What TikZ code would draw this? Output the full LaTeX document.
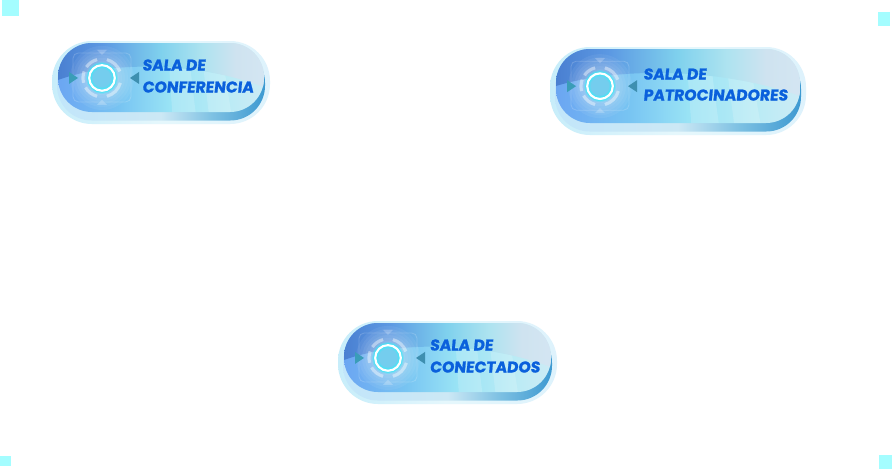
\documentclass[tikz,border=0pt]{standalone}
\usepackage{fontspec}
\setmainfont{Poppins}
\newfontfamily\btnfont[FakeSlant=0.1,FakeBold=1.2]{Poppins Bold}
\definecolor{cornercol}{HTML}{A4FDFF}
\definecolor{textblue}{HTML}{0A60DC}
\definecolor{teal1}{HTML}{3A9DB8}
\definecolor{teal2}{HTML}{3E8FB0}
\definecolor{ringfill}{HTML}{74CDEE}
\definecolor{ringglow}{HTML}{3FE8F8}
\pgfdeclarehorizontalshading{facelow}{100bp}{rgb(0bp)=(0.42,0.65,0.95); rgb(25bp)=(0.42,0.65,0.95); rgb(40bp)=(0.47,0.77,0.95); rgb(52bp)=(0.60,0.89,0.96); rgb(65bp)=(0.72,0.92,0.96); rgb(75bp)=(0.80,0.92,0.96); rgb(100bp)=(0.80,0.92,0.96)}
\pgfdeclarehorizontalshading{faceup}{100bp}{rgb(0bp)=(0.29,0.50,0.82); rgb(25bp)=(0.29,0.50,0.82); rgb(36bp)=(0.36,0.60,0.89); rgb(50bp)=(0.50,0.82,0.93); rgb(60bp)=(0.68,0.89,0.94); rgb(68bp)=(0.81,0.89,0.94); rgb(75bp)=(0.83,0.90,0.95); rgb(100bp)=(0.83,0.90,0.95)}
\pgfdeclarehorizontalshading{rimshade}{100bp}{rgb(0bp)=(0.76,0.90,0.98); rgb(25bp)=(0.76,0.90,0.98); rgb(50bp)=(0.80,0.91,0.96); rgb(62bp)=(0.50,0.76,0.89); rgb(75bp)=(0.24,0.60,0.82); rgb(100bp)=(0.24,0.60,0.82)}
\pgfdeclarehorizontalshading{haloshade}{100bp}{rgb(0bp)=(0.78,0.93,0.98); rgb(25bp)=(0.78,0.93,0.98); rgb(50bp)=(0.90,0.97,0.99); rgb(75bp)=(0.87,0.95,0.99); rgb(100bp)=(0.87,0.95,0.99)}
\tikzset{
  cornerbox/.style={fill=cornercol,draw=none},
  btntext/.style={anchor=west,inner sep=0pt,text=textblue,font=\btnfont\fontsize{11.7}{13}\selectfont},
  hudline/.style={draw=white,opacity=.18,line width=.6pt},
}
% #1 id, #2 left, #3 top, #4 width, #5 height, #6 text x, #7 line1 y, #8 line2 y, #9 texts
\def\firstline#1/#2;{#1}
\def\secondline#1/#2;{#2}
\newcommand{\hudbutton}[9]{%
\begin{scope}[shift={(#2,#3)}]
  \pgfmathsetmacro{\W}{#4}\pgfmathsetmacro{\H}{#5}
  \pgfmathsetmacro{\cxx}{50}\pgfmathsetmacro{\cyy}{\H*0.445}
  \shade[shading=haloshade,rounded corners=30pt] (0,0) rectangle (\W,\H);
  \shade[shading=rimshade,rounded corners=26pt] (5,7) rectangle (\W-5,\H-3.5);
  \begin{scope}
    \clip[rounded corners=25.5pt] (6,2) rectangle (\W-6,\H-12);
    \shade[shading=facelow] (6,0) rectangle (\W-6,\H);
    \begin{scope}
      \clip (6,39) .. controls (\W*0.25,21) and (\W*0.65,19) .. (\W-5,\H*0.56) -- (\W-5,\H) -- (6,\H) -- cycle;
      \fill[white,opacity=.17] (\W*0.53,0) -- (\W*0.62,0) -- (\W*0.665,\H) -- (\W*0.555,\H) -- cycle;
      \fill[white,opacity=.17] (\W*0.68,0) -- (\W*0.77,0) -- (\W*0.83,\H) -- (\W*0.725,\H) -- cycle;
    \end{scope}
    \begin{scope}
      \clip (6,39) .. controls (\W*0.25,21) and (\W*0.65,19) .. (\W-5,\H*0.56) -- (\W-5,0) -- (6,0) -- cycle;
      \shade[shading=faceup] (6,0) rectangle (\W-6,\H);
    \end{scope}
    \draw[hudline,rounded corners=4pt] (\cxx-29,\cyy-25) rectangle (\cxx+29,\cyy+24);
    \fill[white,opacity=.22] (\cxx,\cyy-23) -- (\cxx-5,\cyy-28) -- (\cxx+5,\cyy-28) -- cycle;
    \fill[white,opacity=.22] (\cxx,\cyy+22) -- (\cxx-5,\cyy+27) -- (\cxx+5,\cyy+27) -- cycle;
    \foreach \r in {32,29,26,23,20,17}{\fill[white,opacity=.06] (\cxx,\cyy) circle[radius=\r*0.75pt];}
    \foreach \a/\b in {15/75,105/150,165/200,215/255,285/340}{
      \draw[white,opacity=.42,line width=2.4pt] (\cxx,\cyy) ++(\a:19) arc[start angle=\a,end angle=\b,radius=19];}
    \fill[ringfill] (\cxx,\cyy) circle[radius=9.6pt];
    \draw[ringglow,opacity=.3,line width=5pt] (\cxx,\cyy) circle[radius=9.6pt];
    \draw[ringglow,opacity=.7,line width=3.2pt] (\cxx,\cyy) circle[radius=9.6pt];
    \draw[white,line width=1.6pt] (\cxx,\cyy) circle[radius=9.6pt];
  \end{scope}
  \fill[teal1] (\cxx-33,\cyy-6) -- (\cxx-24,\cyy) -- (\cxx-33,\cyy+6) -- cycle;
  \fill[teal2] (\cxx+37,\cyy-6) -- (\cxx+28,\cyy) -- (\cxx+37,\cyy+6) -- cycle;
  \node[btntext] (#1a) at (#6,#7) {\firstline#9};
  \node[btntext] (#1b) at (#6,#8) {\secondline#9};
\end{scope}}
\begin{document}
\begin{tikzpicture}[x=0.75pt,y=-0.75pt]
\useasboundingbox (0,0) rectangle (893,469);
\fill[white] (0,0) rectangle (893,469);
\fill[cornerbox] (2,0) rectangle (19,16);
\fill[cornerbox] (878,12) rectangle (890,26);
\fill[cornerbox] (0,456) rectangle (11,466);
\fill[cornerbox] (879,455) rectangle (892,469);
\hudbutton{conf}{52}{41}{218}{83}{90}{24}{46}{SALA DE/CONFERENCIA;}
\hudbutton{pat}{550}{47}{256}{88}{93}{27}{48}{SALA DE/PATROCINADORES;}
\hudbutton{con}{338}{321}{219}{83}{91.5}{24}{46}{SALA DE/CONECTADOS;}
\end{tikzpicture}
\end{document}
